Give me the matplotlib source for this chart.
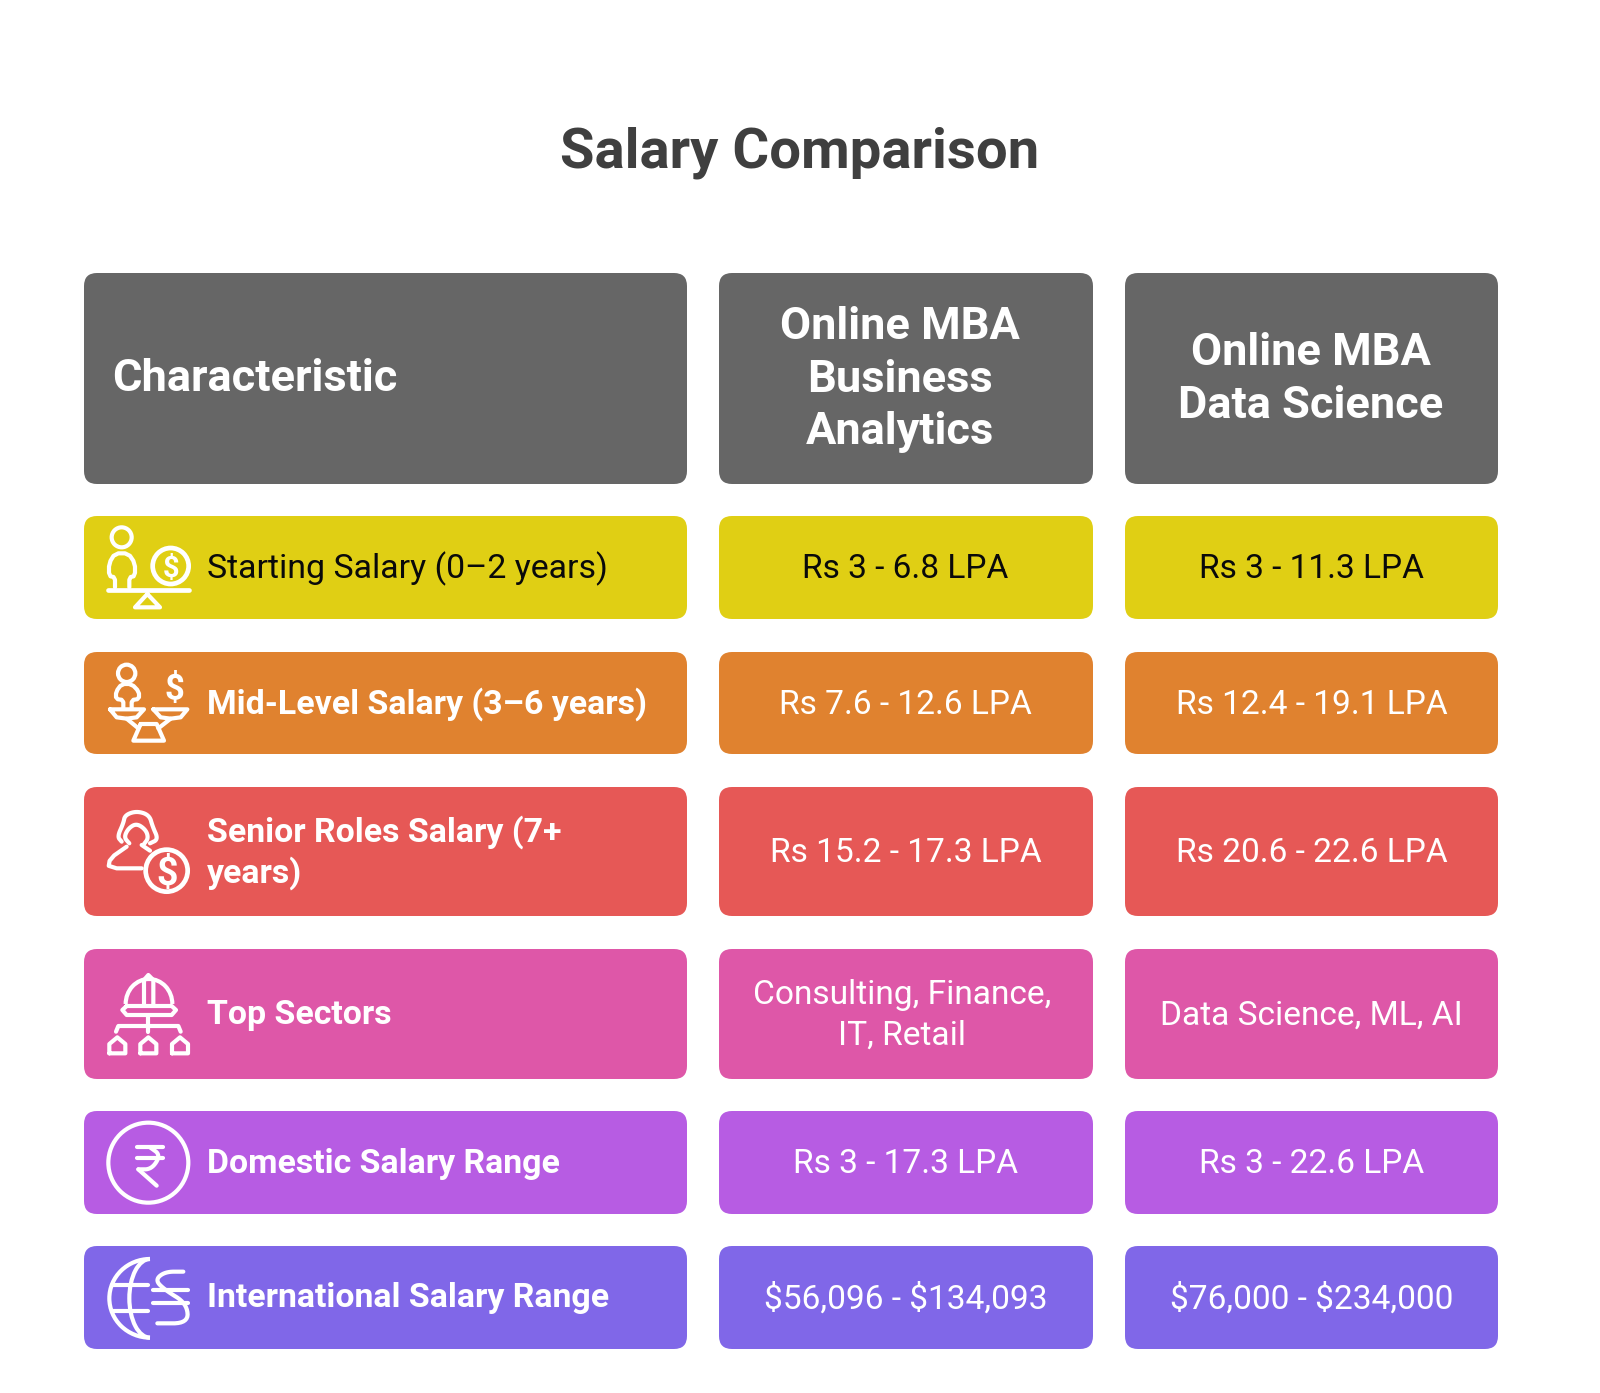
#Salary comparison table with icons
import numpy as np
from matplotlib import pyplot as plt
from matplotlib.patches import FancyBboxPatch, Circle, Arc

plt.rcParams['font.family'] = ['Roboto', 'DejaVu Sans']

title = 'Salary Comparison'
headers = ['Characteristic', 'Online MBA\nBusiness\nAnalytics', 'Online MBA\nData Science']
characteristics = ['Starting Salary (0–2 years)', 'Mid-Level Salary (3–6 years)',
                   'Senior Roles Salary (7+\nyears)', 'Top Sectors',
                   'Domestic Salary Range', 'International Salary Range']
business_analytics = ['Rs 3 - 6.8 LPA', 'Rs 7.6 - 12.6 LPA', 'Rs 15.2 - 17.3 LPA',
                      'Consulting, Finance,\nIT, Retail', 'Rs 3 - 17.3 LPA', '$56,096 - $134,093']
data_science = ['Rs 3 - 11.3 LPA', 'Rs 12.4 - 19.1 LPA', 'Rs 20.6 - 22.6 LPA',
                'Data Science, ML, AI', 'Rs 3 - 22.6 LPA', '$76,000 - $234,000']
row_colors = ['#e0cf14', '#e0822f', '#e65856', '#de57a8', '#b75ce3', '#8067e8']
text_colors = ['#0a0a0a', 'white', 'white', 'white', 'white', 'white']
label_weights = ['normal', 'bold', 'bold', 'bold', 'bold', 'bold']

#Layout in pixels
col_left = [84, 719, 1125]
col_right = [687, 1093, 1498]
header_top, header_bottom = 273, 484
row_top = [516, 652, 787, 949, 1111, 1246]
row_bottom = [619, 754, 916, 1079, 1214, 1349]

fig = plt.figure(figsize=(16, 13.93), dpi=100)
ax = fig.add_axes([0, 0, 1, 1])
ax.set_xlim(0, 1600)
ax.set_ylim(1393, 0)
ax.axis('off')

def box(x0, x1, y0, y1, color):
    ax.add_patch(FancyBboxPatch((x0, y0), x1 - x0, y1 - y0, boxstyle='round,pad=0,rounding_size=13',
                                facecolor=color, edgecolor='none'))

def conv(pts, oy):
    pts = np.array(pts, dtype=float)
    return 70 + pts[:, 0] / 3, oy + pts[:, 1] / 3

def chaikin(x, y, n=3):
    for _ in range(n):
        p = np.column_stack([x, y])
        q = 0.75 * p[:-1] + 0.25 * p[1:]
        r = 0.25 * p[:-1] + 0.75 * p[1:]
        s = np.empty((len(q) * 2, 2))
        s[0::2] = q
        s[1::2] = r
        s = np.vstack([p[0], s, p[-1]])
        x, y = s[:, 0], s[:, 1]
    return x, y

def stroke(pts, oy, lw=3.0, smooth=0, color='white'):
    x, y = conv(pts, oy)
    if smooth:
        x, y = chaikin(x, y, smooth)
    ax.plot(x, y, color=color, lw=lw, solid_capstyle='round', solid_joinstyle='round')

def ring(cx, cy, r, oy, lw=3.0, color='white'):
    x, y = conv([[cx, cy]], oy)
    ax.add_patch(Circle((x[0], y[0]), r / 3, fill=False, edgecolor=color, lw=lw))

def arc(cx, cy, rx, ry, t1, t2, oy, lw=3.0):
    x, y = conv([[cx, cy]], oy)
    #y axis is inverted, so angles run the other way round
    ax.add_patch(Arc((x[0], y[0]), 2 * rx / 3, 2 * ry / 3, theta1=t1, theta2=t2, edgecolor='white', lw=lw))

def dollar(cx, cy, oy, size, color='white'):
    x, y = conv([[cx, cy]], oy)
    ax.text(x[0], y[0], '$', color=color, fontsize=size, fontweight='bold', ha='center',
            va='center_baseline', parse_math=False)

def icon_starting(oy=500):
    ring(155, 112, 30, oy)
    stroke([[135, 262], [135, 232], [117, 228], [117, 190], [135, 160], [175, 160], [195, 190],
            [195, 228], [178, 232], [178, 262]], oy, smooth=1)
    ring(302, 198, 54, oy, lw=3.4)
    dollar(302, 198, oy, 21)
    stroke([[115, 269], [357, 269]], oy, lw=3.4)
    stroke([[232, 282], [195, 322], [270, 322], [232, 282]], oy)

def icon_mid(oy=500):
    ring(170, 520, 26, oy)
    stroke([[160, 625], [160, 600], [138, 597], [138, 575], [155, 552], [185, 552], [207, 575],
            [207, 597], [185, 600], [185, 625]], oy, smooth=1)
    dollar(312, 558, oy, 25)
    stroke([[120, 628], [222, 628], [200, 652], [170, 656], [140, 652], [120, 628]], oy)
    stroke([[250, 628], [352, 628], [332, 652], [302, 656], [272, 652], [250, 628]], oy)
    stroke([[170, 656], [205, 685]], oy)
    stroke([[302, 656], [265, 685]], oy)
    stroke([[212, 672], [260, 672], [282, 722], [190, 722], [212, 672]], oy)

def icon_senior(oy=780):
    stroke([[155, 185], [142, 170], [160, 130], [165, 105], [200, 93], [238, 105], [248, 140],
            [265, 178], [240, 190]], oy, smooth=3)
    stroke([[178, 190], [162, 172], [175, 145], [200, 130], [228, 150], [235, 175], [222, 192]], oy, smooth=3)
    stroke([[170, 200], [120, 235], [115, 265], [215, 265]], oy, smooth=1)
    stroke([[215, 195], [240, 212]], oy)
    ring(290, 272, 63, oy, lw=3.4)
    dollar(290, 272, oy, 27)

def icon_sectors(oy=780):
    arc(237, 672, 70, 75, 180, 360, oy)
    stroke([[222, 672], [222, 600], [235, 585], [250, 600], [250, 672]], oy)
    stroke([[170, 678], [305, 678], [318, 690], [305, 705], [170, 705], [157, 690], [170, 678]], oy)
    stroke([[235, 708], [235, 755]], oy)
    stroke([[138, 755], [145, 738], [325, 738], [332, 755]], oy)
    for cx in [142, 235, 330]:
        stroke([[cx - 24, 820], [cx - 24, 792], [cx, 772], [cx + 24, 792], [cx + 24, 820], [cx - 24, 820]], oy)

def icon_domestic(oy=1090):
    ring(235, 218, 120, oy)
    stroke([[200, 172], [278, 172]], oy)
    stroke([[200, 205], [278, 205]], oy)
    stroke([[240, 172], [272, 195], [245, 238], [205, 238]], oy, smooth=3)
    stroke([[205, 238], [260, 287]], oy)

def icon_international(oy=1090):
    arc(240, 625, 122, 118, 90, 270, oy)
    arc(240, 625, 62, 118, 90, 270, oy)
    stroke([[125, 585], [235, 585]], oy)
    stroke([[125, 662], [235, 662]], oy)
    stroke([[340, 545], [285, 545], [255, 570], [285, 600], [350, 640], [355, 700], [262, 700]], oy, smooth=3)
    stroke([[250, 600], [355, 600]], oy)
    stroke([[250, 640], [355, 640]], oy)

ax.text(800, 152.5, title, color='#3f3f3f', fontsize=40.5, fontweight='bold', ha='center', va='center')

#Header row
for i, header in enumerate(headers):
    box(col_left[i], col_right[i], header_top, header_bottom, '#666666')
header_kw = dict(color='white', fontsize=32.5, fontweight='bold', va='center', linespacing=1.33)
ax.text(112, 379, headers[0], ha='left', **header_kw)
ax.text(900, 379.5, headers[1], ha='center', **header_kw)
ax.text(1311, 379.5, headers[2], ha='center', **header_kw)

#Table rows
for i in range(len(characteristics)):
    for c in range(3):
        box(col_left[c], col_right[c], row_top[i], row_bottom[i], row_colors[i])
    cy = (row_top[i] + row_bottom[i]) / 2 + 1
    ax.text(207, cy, characteristics[i], color=text_colors[i], fontsize=24.4, fontweight=label_weights[i],
            ha='left', va='center', linespacing=1.24)
    x1 = 902 if '\n' in business_analytics[i] else 905.5
    ax.text(x1, cy + 0.5, business_analytics[i], color=text_colors[i], fontsize=24.15, ha='center', va='center',
            linespacing=1.33, parse_math=False)
    ax.text(1311.5, cy + 0.5, data_science[i], color=text_colors[i], fontsize=24.15, ha='center', va='center',
            linespacing=1.33, parse_math=False)

icon_starting()
icon_mid()
icon_senior()
icon_sectors()
icon_domestic()
icon_international()

fig.savefig('out.png', dpi=100, facecolor='white')
